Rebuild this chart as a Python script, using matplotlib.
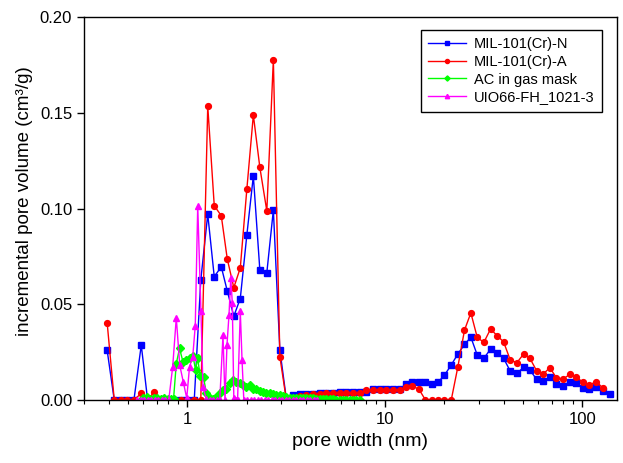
import matplotlib
matplotlib.use('Agg')
import matplotlib.pyplot as plt
from matplotlib.ticker import LogLocator, NullFormatter, FixedLocator

plt.rcParams['font.family'] = ['Liberation Sans', 'DejaVu Sans']

# pore widths (nm) of the MIL-101(Cr)-N sample
mil_n_width = [0.393, 0.427, 0.460, 0.496, 0.537, 0.585, 0.630, 0.680, 0.734, 0.792,
               0.854, 0.927, 1.000, 1.085, 1.171, 1.270, 1.370, 1.487, 1.595, 1.721,
               1.856, 2.003, 2.161, 2.331, 2.529, 2.729, 2.944, 3.176, 3.434, 3.709,
               4.010, 4.336, 4.684, 5.064, 5.476, 5.916, 6.396, 6.917, 7.470, 8.077,
               8.735, 9.434, 10.20, 11.03, 11.91, 12.81, 13.81, 14.91, 16.08, 17.31,
               18.65, 20.07, 21.71, 23.44, 25.34, 27.29, 29.40, 31.76, 34.34, 37.05,
               39.96, 43.21, 46.67, 50.47, 54.31, 58.74, 63.51, 68.53, 73.99, 80.05,
               86.52, 93.46, 100.5, 108.6, 117.3, 126.9, 137.7]

mil_n = [0.026, 0, 0, 0, 0, 0.0287, 0, 0, 0, 0,
         0, 0, 0, 0, 0.0626, 0.097, 0.0644, 0.0696, 0.0569, 0.0438,
         0.053, 0.0861, 0.117, 0.0679, 0.0665, 0.0992, 0.0261, 0.0005, 0.0026, 0.003,
         0.003, 0.0032, 0.0038, 0.0038, 0.0038, 0.004, 0.004, 0.0042, 0.0044, 0.0044,
         0.0056, 0.0056, 0.0056, 0.0056, 0.0058, 0.0082, 0.0096, 0.0096, 0.0092, 0.0082,
         0.0094, 0.013, 0.0183, 0.024, 0.029, 0.0328, 0.0235, 0.0218, 0.0266, 0.0244,
         0.0218, 0.0151, 0.0139, 0.0171, 0.0157, 0.0108, 0.0099, 0.0122, 0.0084, 0.0075,
         0.0096, 0.0087, 0.0061, 0.0056, 0.0066, 0.0047, 0.003]

# the -A sample uses the same widths but stops one point earlier
mil_a_width = mil_n_width[:-1]

mil_a = [0.0404, 0, 0, 0, 0, 0.0035, 0, 0.0043, 0, 0,
         0, 0, 0, 0, 0, 0.1535, 0.1015, 0.0962, 0.0736, 0.0587,
         0.069, 0.110, 0.1488, 0.1215, 0.0987, 0.1778, 0.0226, 0, 0.001, 0.002,
         0.0026, 0.003, 0.0033, 0.0035, 0.0035, 0.0038, 0.0038, 0.0035, 0.0035, 0.0052,
         0.0052, 0.0052, 0.005, 0.005, 0.0052, 0.0066, 0.0073, 0.0056, 0, 0,
         0, 0, 0, 0.0172, 0.0365, 0.0455, 0.0327, 0.0301, 0.0371, 0.0336,
         0.0304, 0.0209, 0.0195, 0.024, 0.0218, 0.0153, 0.0136, 0.0169, 0.0116, 0.011,
         0.0134, 0.0122, 0.0092, 0.0078, 0.0096, 0.0064]

ac_width = [0.598, 0.623, 0.649, 0.676, 0.705, 0.734, 0.765, 0.797, 0.825, 0.852,
            0.880, 0.914, 0.951, 0.988, 1.027, 1.069, 1.102, 1.128, 1.164, 1.209,
            1.248, 1.297, 1.350, 1.403, 1.458, 1.517, 1.576, 1.638, 1.705, 1.771,
            1.841, 1.916, 1.991, 2.069, 2.153, 2.237, 2.325, 2.419, 2.514, 2.613,
            2.719, 2.825, 2.936, 3.055, 3.176, 3.300, 3.434, 3.568, 3.709, 3.858,
            4.010, 4.168, 4.336, 4.506, 4.684, 4.874, 5.064, 5.264, 5.476, 5.691,
            5.916, 6.155, 6.396, 6.648, 6.917, 7.189, 7.470]

ac_mask = [0.001, 0.0017, 0.0005, 0.0012, 0.0008, 0.0005, 0.0012, 0.0005, 0.0005, 0.0003,
           0.019, 0.027, 0.020, 0.021, 0.0218, 0.023, 0.0157, 0.0218, 0.0125, 0.0122,
           0.0035, 0.001, 0.0005, 0.0015, 0.0038, 0.005, 0.006, 0.0087, 0.0104, 0.0096,
           0.0087, 0.008, 0.007, 0.0078, 0.006, 0.0056, 0.0047, 0.0042, 0.0035, 0.0035,
           0.003, 0.0028, 0.0024, 0.002, 0.0017, 0.0012, 0.001, 0.001, 0.0009, 0.0009,
           0.0009, 0.0008, 0.0008, 0.0006, 0.0005, 0.0005, 0.0004, 0.0003, 0.0003, 0.0002,
           0.0002, 0.0002, 0.0001, 0.0001, 0.0001, 0.0001, 0.0001]

uio_width = [0.558, 0.581, 0.605, 0.631, 0.657, 0.684, 0.713, 0.743, 0.774, 0.806,
             0.844, 0.880, 0.916, 0.954, 0.994, 1.027, 1.066, 1.098, 1.130, 1.173,
             1.201, 1.248, 1.300, 1.354, 1.411, 1.461, 1.517, 1.553, 1.589, 1.627,
             1.661, 1.691, 1.721, 1.757, 1.798, 1.856, 1.894, 1.934, 2.014, 2.10,
             2.19, 2.28, 2.37, 2.47, 2.57, 2.68, 2.79, 2.91, 3.03, 3.16,
             3.28, 3.42, 3.57, 3.71, 3.87, 4.03, 4.20, 4.37, 4.55]

uio66 = [0, 0, 0, 0, 0, 0, 0, 0, 0, 0,
         0.0174, 0.043, 0.0183, 0.0096, 0.001, 0.0174, 0.0226, 0.0388, 0.1015, 0.0465,
         0.007, 0.0005, 0, 0, 0, 0, 0.034, 0, 0.0287, 0.0444,
         0.0638, 0.0508, 0.001, 0, 0, 0.0465, 0.021, 0, 0, 0,
         0, 0, 0, 0, 0, 0, 0, 0, 0, 0,
         0, 0, 0, 0, 0, 0, 0, 0, 0]

fig = plt.figure(figsize=(6.23, 4.63), dpi=100)
ax = fig.add_axes([0.1348, 0.136, 0.8556, 0.8273])

ax.plot(mil_n_width, mil_n, color='#0000ff', marker='s', markersize=4.2, lw=1,
        label='MIL-101(Cr)-N')
ax.plot(mil_a_width, mil_a, color='#ff0000', marker='o', markersize=4.2, lw=1,
        label='MIL-101(Cr)-A')
ax.plot(ac_width, ac_mask, color='#00ff00', marker='D', markersize=3.8, lw=1,
        label='AC in gas mask')
ax.plot(uio_width, uio66, color='#ff00ff', marker='^', markersize=4.5, lw=1,
        label='UIO66-FH_1021-3')

ax.set_xscale('log')
ax.set_xlim(0.3, 150)
ax.set_ylim(0, 0.2)
ax.yaxis.set_major_locator(FixedLocator([0, 0.05, 0.10, 0.15, 0.20]))
ax.set_yticklabels(['0.00', '0.05', '0.10', '0.15', '0.20'])
ax.xaxis.set_major_locator(FixedLocator([1, 10, 100]))
ax.set_xticklabels(['1', '10', '100'])
ax.xaxis.set_minor_locator(LogLocator(base=10, subs=range(2, 10)))
ax.xaxis.set_minor_formatter(NullFormatter())

ax.tick_params(axis='both', which='major', direction='out', length=5, width=1,
               labelsize=12, top=False, right=False)
ax.tick_params(axis='x', which='minor', direction='out', length=3, width=0.8,
               top=False)
for s in ax.spines.values():
    s.set_linewidth(1)

ax.set_xlabel('pore width (nm)', fontsize=14)
ax.set_ylabel('incremental pore volume (cm³/g)', fontsize=13.5)
ax.xaxis.set_label_coords(0.517, -0.085)
ax.yaxis.set_label_coords(-0.095, 0.52)

leg = ax.legend(loc='upper right', bbox_to_anchor=(0.972, 0.966), fontsize=10.5,
                numpoints=1, handlelength=2.6, handletextpad=0.55, fancybox=False,
                framealpha=1, edgecolor='black', borderpad=0.5, labelspacing=0.25,
                markerscale=0.7, borderaxespad=0)
leg.get_frame().set_linewidth(1)

fig.savefig('out.png', dpi=100)
